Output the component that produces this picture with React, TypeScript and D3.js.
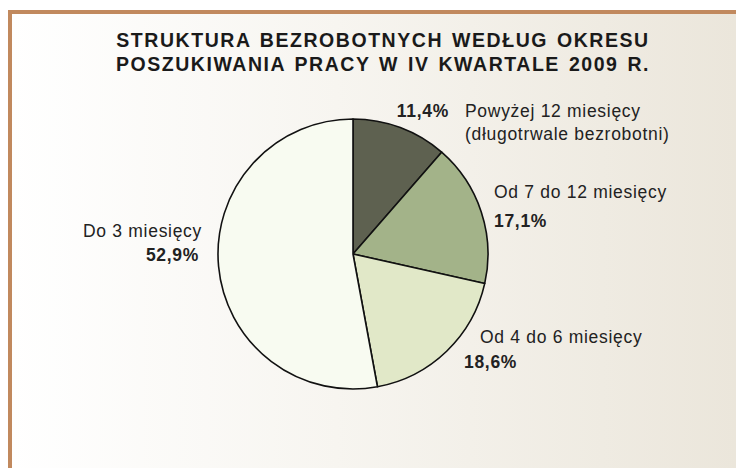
import React from "react";
import * as d3 from "d3";

const categories = [
  "Powyżej 12 miesięcy",
  "Od 7 do 12 miesięcy",
  "Od 4 do 6 miesięcy",
  "Do 3 miesięcy",
];
const values = [11.4, 17.1, 18.6, 52.9];
const valueLabels = ["11,4%", "17,1%", "18,6%", "52,9%"];
const colors = ["#5e6150", "#a3b389", "#e1e8c8", "#f8fbf1"];
const titleLines = [
  "STRUKTURA BEZROBOTNYCH WEDŁUG OKRESU",
  "POSZUKIWANIA PRACY W IV KWARTALE 2009 R.",
];

const W = 736;
const H = 468;
const cx = 353;
const cy = 254;
const R = 135;

export default function App() {
  const pie = d3.pie<number>().sort(null).value((d) => d);
  const arcs = pie(values);
  const arc = d3.arc<d3.PieArcDatum<number>>().innerRadius(0).outerRadius(R);
  const font = "Arial, 'Liberation Sans', Helvetica, sans-serif";
  const lab = { fontFamily: font, fontSize: 17.5, fill: "#222", letterSpacing: 0.7 } as const;
  const bold = { ...lab, fontWeight: 700 } as const;

  return (
    <svg width={W} height={H} style={{ position: "absolute", left: 0, top: 0 }}>
      <defs>
        <linearGradient id="bg" x1="0" x2="1" y1="0" y2="0">
          <stop offset="0" stopColor="#ffffff" />
          <stop offset="0.45" stopColor="#f7f5f0" />
          <stop offset="1" stopColor="#ebe6db" />
        </linearGradient>
      </defs>
      <rect x={0} y={0} width={W} height={H} fill="#ffffff" />
      <rect x={10} y={12} width={W - 10} height={H - 12} fill="url(#bg)" />
      <line x1={10} y1={12} x2={W} y2={12} stroke="#c1895e" strokeWidth={4} />
      <line x1={10} y1={10} x2={10} y2={H} stroke="#c1895e" strokeWidth={4} />

      {titleLines.map((t, i) => (
        <text
          key={i}
          x={383}
          y={47 + i * 24}
          textAnchor="middle"
          style={{ fontFamily: font, fontSize: 19.5, fontWeight: 700, fill: "#1a1a1a", letterSpacing: 1.55, wordSpacing: 2 }}
        >
          {t}
        </text>
      ))}

      <g transform={`translate(${cx},${cy})`}>
        {arcs.map((a, i) => (
          <path key={i} d={arc(a) || ""} fill={colors[i]} stroke="#111" strokeWidth={1.6} strokeLinejoin="round" />
        ))}
      </g>

      <text x={449} y={117} textAnchor="end" style={bold}>{valueLabels[0]}</text>
      <text x={465} y={117} style={lab}>{categories[0]}</text>
      <text x={465} y={140} style={lab}>(długotrwale bezrobotni)</text>

      <text x={494} y={198} style={lab}>{categories[1]}</text>
      <text x={494} y={227} style={bold}>{valueLabels[1]}</text>

      <text x={480} y={343} style={lab}>{categories[2]}</text>
      <text x={464} y={368} style={bold}>{valueLabels[2]}</text>

      <text x={202} y={237} textAnchor="end" style={lab}>{categories[3]}</text>
      <text x={199} y={261} textAnchor="end" style={bold}>{valueLabels[3]}</text>
    </svg>
  );
}
